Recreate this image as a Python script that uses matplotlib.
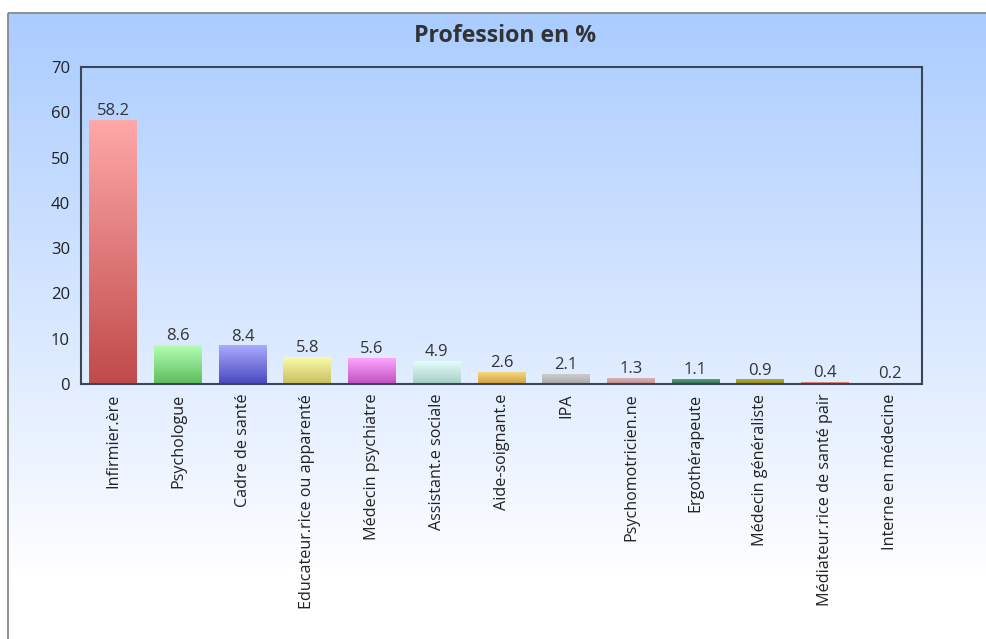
import numpy as np
import matplotlib
matplotlib.use('Agg')
import matplotlib.pyplot as plt
from matplotlib.colors import LinearSegmentedColormap
from matplotlib.patches import Rectangle

professions = ['Infirmier.ère', 'Psychologue', 'Cadre de santé',
               'Educateur.rice ou apparenté', 'Médecin psychiatre',
               'Assistant.e sociale', 'Aide-soignant.e', 'IPA',
               'Psychomotricien.ne', 'Ergothérapeute', 'Médecin généraliste',
               'Médiateur.rice de santé pair', 'Interne en médecine']
percent = [58.2, 8.6, 8.4, 5.8, 5.6, 4.9, 2.6, 2.1, 1.3, 1.1, 0.9, 0.4, 0.2]
# (top, bottom) colour of each bar's gradient
bar_colors = [('#ffa8a8', '#c04a4a'), ('#b4ffb4', '#5cbc5c'),
              ('#aaaaff', '#4848c0'), ('#fafaa8', '#c8c060'),
              ('#ffa4ff', '#c050c0'), ('#e4fffa', '#a4ccc4'),
              ('#f4d880', '#d0a040'), ('#cccccc', '#a8a8a8'),
              ('#dcb0b0', '#c09090'), ('#5aa07a', '#2e6e4e'),
              ('#b0a838', '#948c20'), ('#e89080', '#d06858'),
              ('#b0c0c8', '#90a0a8')]

plt.rcParams['font.family'] = ['Open Sans', 'DejaVu Sans']

W, H = 987, 639
fig = plt.figure(figsize=(W / 100, H / 100), dpi=100)

# page background: blue fading to white inside a grey frame
bg = fig.add_axes([0, 0, 1, 1])
bg.set_xlim(0, W)
bg.set_ylim(H, 0)
bg.axis('off')
grad = np.linspace(0, 1, 256).reshape(-1, 1)
bg_cmap = LinearSegmentedColormap.from_list('bg', ['#aaccff', '#ffffff'])
bg.imshow(grad, cmap=bg_cmap, extent=[8, W + 5, 580, 13], aspect='auto')
bg.add_patch(Rectangle((8, 13), W, H, fill=False, edgecolor='#888888', lw=1.3))

ax = fig.add_axes([81 / W, 1 - 384 / H, (922 - 81) / W, (384 - 67) / H])
ax.patch.set_alpha(0)
x = np.arange(len(professions))
bars = ax.bar(x, percent, width=0.74, color='none')
for b, (top, bottom), v in zip(bars, bar_colors, percent):
    x0, w, h = b.get_x(), b.get_width(), b.get_height()
    cmap = LinearSegmentedColormap.from_list('b', [top, bottom])
    ax.imshow(grad, cmap=cmap, extent=[x0, x0 + w, 0, h], aspect='auto',
              zorder=2)
    ax.text(x0 + w / 2, h + 0.3, f'{v:.1f}', ha='center', va='bottom',
            fontsize=12, color='#333333')

ax.set_xlim(-0.5, len(professions) - 0.5)
ax.set_ylim(0, 70)
ax.set_yticks(range(0, 71, 10))
ax.set_xticks(x)
ax.set_xticklabels(professions, rotation=90, fontsize=11.6, color='#222222')
ax.tick_params(axis='y', labelsize=12, labelcolor='#222222', length=0, pad=8)
ax.tick_params(axis='x', length=0, pad=7)
for s in ax.spines.values():
    s.set_color('#3a4656')
    s.set_linewidth(1.5)

fig.text(505 / W, 1 - 36 / H, 'Profession en %', ha='center', va='center',
         fontsize=16.7, fontweight='bold', color='#333333')

fig.savefig('out.png', dpi=100)
